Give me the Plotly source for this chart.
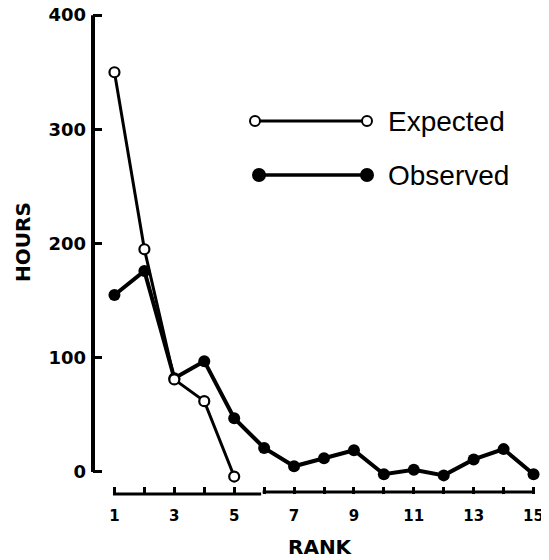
import plotly.graph_objects as go

# ---- data ----
ranks = list(range(1, 16))
expected_ranks = [1, 2, 3, 4, 5]
expected_hours = [350, 195, 81, 62, -4]
observed_hours = [155, 176, 82, 97, 47, 21, 5, 12, 19, -2, 2, -3, 11, 20, -2]
x_tick_vals = list(range(1, 16))
x_tick_text = [str(v) if v % 2 == 1 else "" for v in x_tick_vals]
y_tick_vals = [0, 100, 200, 300, 400]
legend_names = ["Expected", "Observed"]

# ---- geometry (pixels) ----
OFF = 8  # page body margin
W, H = 541, 552
L, R, T, B = 85, 4, 6, 66
pw, ph = W - L - R, H - T - B


def px(xp):  # page pixel -> paper x
    return (xp - OFF - L) / pw


def py(yp):  # page pixel -> paper y
    return (H - B - (yp - OFF)) / ph


fig = go.Figure()

fig.add_trace(go.Scatter(
    x=ranks, y=observed_hours, mode="lines+markers", name="Observed",
    line=dict(color="black", width=4),
    marker=dict(symbol="circle", size=12, color="black"),
    showlegend=False, cliponaxis=False))

fig.add_trace(go.Scatter(
    x=expected_ranks, y=expected_hours, mode="lines+markers", name="Expected",
    line=dict(color="black", width=3),
    marker=dict(symbol="circle", size=10, color="white",
                line=dict(color="black", width=2.2)),
    showlegend=False, cliponaxis=False))

shapes = []
# y axis line from 0 to 400
shapes.append(dict(type="line", xref="paper", yref="y", x0=0, x1=0,
                   y0=y_tick_vals[0], y1=y_tick_vals[-1],
                   line=dict(color="black", width=4)))
# x axis line (two segments with a small break)
shapes.append(dict(type="line", xref="x", yref="paper", x0=ranks[0] - 0.05, x1=5.9,
                   y0=0, y1=0, line=dict(color="black", width=3)))
shapes.append(dict(type="line", xref="x", yref="paper", x0=5.95, x1=ranks[-1] + 0.05,
                   y0=0.004, y1=0.004, line=dict(color="black", width=3)))

# custom legend samples
leg_rows = [
    dict(name=legend_names[0], y=121, x0=255, x1=367, lw=3, msize=10, filled=False),
    dict(name=legend_names[1], y=175, x0=259, x1=367, lw=3.5, msize=12, filled=True),
]
annotations = []
for row in leg_rows:
    yy = py(row["y"])
    shapes.append(dict(type="line", xref="paper", yref="paper",
                       x0=px(row["x0"]), x1=px(row["x1"]), y0=yy, y1=yy,
                       line=dict(color="black", width=row["lw"])))
    for xe in (row["x0"], row["x1"]):
        r = row["msize"] / 2
        shapes.append(dict(type="circle", xref="paper", yref="paper",
                           xsizemode="pixel", ysizemode="pixel",
                           xanchor=px(xe), yanchor=yy,
                           x0=-r, x1=r, y0=-r, y1=r,
                           fillcolor="black" if row["filled"] else "white",
                           line=dict(color="black", width=2)))
    annotations.append(dict(text=row["name"], xref="paper", yref="paper",
                            x=px(386), y=yy, xanchor="left", yanchor="middle",
                            showarrow=False,
                            font=dict(family="Liberation Sans, Arial", size=28,
                                      color="black")))

# axis titles
annotations.append(dict(text="HOURS", xref="paper", yref="paper",
                        x=px(23), y=py(242), textangle=-90, showarrow=False,
                        xanchor="center", yanchor="middle",
                        font=dict(family="DejaVu Sans", size=20, color="black",
                                  weight="bold")))
annotations.append(dict(text="RANK", xref="paper", yref="paper",
                        x=px(320), y=py(547), showarrow=False,
                        xanchor="center", yanchor="middle",
                        font=dict(family="DejaVu Sans", size=20, color="black",
                                  weight="bold")))

fig.update_layout(
    width=W, height=H,
    margin=dict(l=L, r=R, t=T, b=B, pad=0, autoexpand=False),
    plot_bgcolor="white", paper_bgcolor="white",
    showlegend=False,
    shapes=shapes, annotations=annotations,
    xaxis=dict(range=[0.283, 15.383], tickvals=x_tick_vals, ticktext=x_tick_text,
               ticks="inside", ticklen=7, tickwidth=2.5, tickcolor="black",
               showline=False, showgrid=False, zeroline=False, automargin=False,
               ticklabelstandoff=11, ticklabeloverflow="allow",
               tickfont=dict(family="DejaVu Sans", size=15, color="black",
                             weight="bold")),
    yaxis=dict(range=[-19.3, 401], tickvals=y_tick_vals,
               ticks="inside", ticklen=9, tickwidth=3, tickcolor="black",
               showline=False, showgrid=False, zeroline=False, automargin=False,
               ticklabelstandoff=6, ticklabeloverflow="allow",
               tickfont=dict(family="DejaVu Sans", size=18, color="black",
                             weight="bold")),
)

fig.write_html("out.html")
